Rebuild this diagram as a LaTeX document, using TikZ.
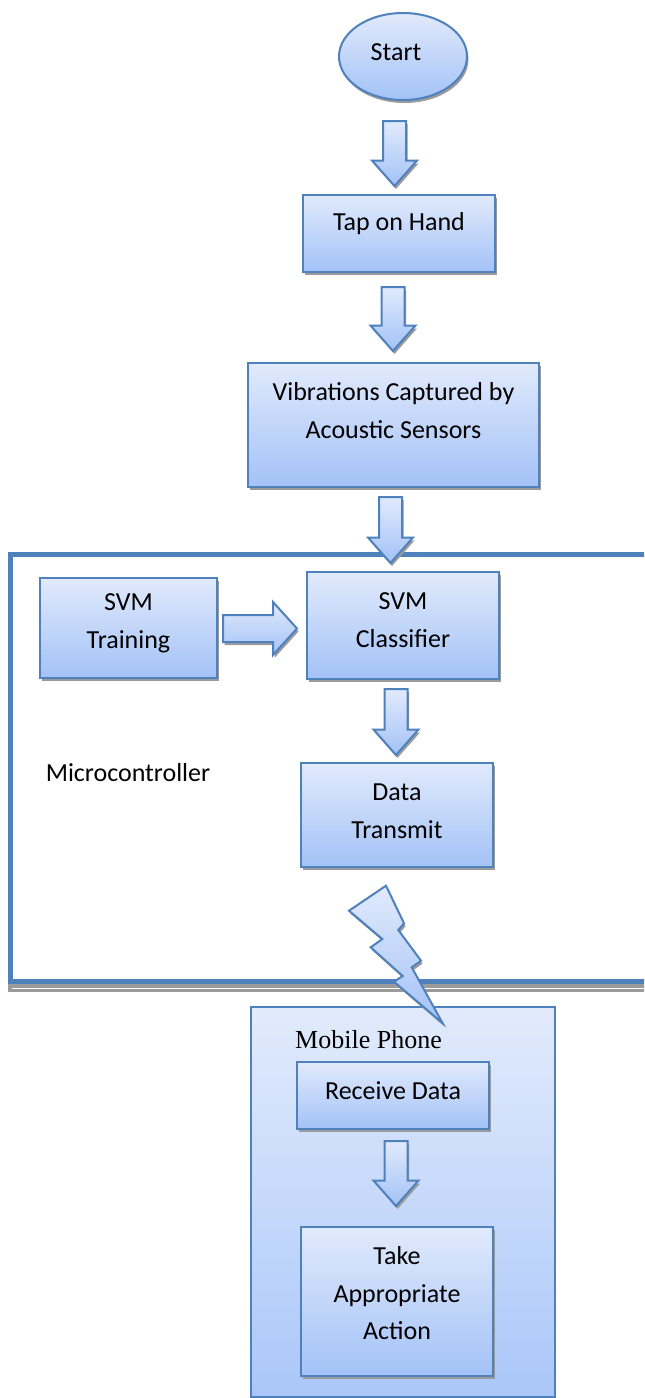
\documentclass[tikz,border=0pt]{standalone}
\usepackage{fontspec}
\setmainfont{Carlito}
\newfontfamily\phonefont{Liberation Serif}
\usetikzlibrary{shapes.geometric,shadows,calc}
\definecolor{bdr}{RGB}{79,129,189}
\definecolor{ctop}{RGB}{225,234,252}
\definecolor{cbot}{RGB}{163,194,247}
\definecolor{mtop}{RGB}{226,235,252}
\definecolor{mbot}{RGB}{170,199,249}
\definecolor{shadowc}{RGB}{155,155,155}
\tikzset{
  shadowed/.style={drop shadow={shadow xshift=0.75pt, shadow yshift=-1.5pt, fill=shadowc, opacity=1}},
  box/.style={draw=bdr, line width=1pt, top color=ctop, bottom color=cbot, shadowed, inner sep=0pt},
  blk/.style={draw=bdr, line width=1pt, top color=ctop, bottom color=cbot, shadowed, line join=miter},
  txt/.style={font=\fontsize{13}{18.75}\selectfont, align=center, inner sep=0pt, text=black},
  frame/.style={draw=bdr, line width=2.5pt},
}
\newcommand\blkdown[2]{\path[blk] let \p1=(#1), \p2=(#2) in
  (\x2-5.75pt,\y1) -- (\x2+5.75pt,\y1) -- (\x2+5.75pt,\y2+12.75pt) -- (\x2+11.25pt,\y2+12.75pt)
  -- (\x2,\y2) -- (\x2-11.25pt,\y2+12.75pt) -- (\x2-5.75pt,\y2+12.75pt) -- cycle;}
\begin{document}
\begin{tikzpicture}[x=0.5pt,y=-0.5pt]
\useasboundingbox (0,0) rectangle (644,1398);
\clip (0,0) rectangle (644,1398);
\fill[white] (0,0) rectangle (644,1398);
% microcontroller frame
\fill[shadowc] (8,984) rectangle (660,992);
\draw[white, line width=0.5pt] (12,988.5) -- (660,988.5);
\draw[frame] (660,554.5) -- (10.5,554.5) -- (10.5,981.5) -- (660,981.5);
\node[txt] (mcu) at (128,773) {Microcontroller};
% nodes
\node[box, ellipse, minimum width=64pt, minimum height=43.5pt] (start) at (403,56.5) {};
\node[txt] (startT) at (396,52) {Start};
\node[box, minimum width=96pt, minimum height=38.5pt] (tap) at (399,233.5) {};
\node[txt] (tapT) at (399,224) {Tap on Hand};
\node[box, minimum width=145.5pt, minimum height=62pt] (vib) at (393.5,425) {};
\node[txt] (vibT) at (393.5,410.5) {Vibrations Captured by\\Acoustic Sensors};
\node[box, minimum width=88.5pt, minimum height=50pt] (train) at (128.5,628) {};
\node[txt] (trainT) at (128.5,623.5) {SVM\\Training};
\node[box, minimum width=96pt, minimum height=53.5pt] (clf) at (403,625.5) {};
\node[txt] (clfT) at (403,620) {SVM\\Classifier};
\node[box, minimum width=96pt, minimum height=52pt] (tx) at (397,815) {};
\node[txt] (txT) at (397,811) {Data\\Transmit};
% mobile phone
\node[draw=bdr, line width=1pt, top color=mtop, bottom color=mbot, inner sep=0pt,
      minimum width=152pt, minimum height=195pt] (mob) at (403,1202) {};
\node[txt, font=\phonefont\fontsize{13}{16}\selectfont] (mobT) at (368.5,1040) {Mobile Phone};
\node[box, minimum width=96pt, minimum height=33.5pt] (rcv) at (393,1095.5) {};
\node[txt] (rcvT) at (393,1091) {Receive Data};
\node[box, minimum width=96pt, minimum height=74.5pt] (act) at (397,1301.5) {};
\node[txt] (actT) at (397,1293.5) {Take\\Appropriate\\Action};
% block arrows
\coordinate (a1s) at (394.5,121); \coordinate (a1e) at (394.5,186);
\coordinate (a2s) at (393,287);   \coordinate (a2e) at (393,351);
\coordinate (a3s) at (390.5,497); \coordinate (a3e) at (390.5,563);
\coordinate (a4s) at (396,689);   \coordinate (a4e) at (396,755);
\coordinate (a5s) at (396,1141);  \coordinate (a5e) at (396,1206);
\blkdown{a1s}{a1e}
\blkdown{a2s}{a2e}
\blkdown{a3s}{a3e}
\blkdown{a4s}{a4e}
\blkdown{a5s}{a5e}
\coordinate (r1s) at (223,628.5); \coordinate (r1e) at (297,628.5);
\path[blk] let \p1=(r1s), \p2=(r1e) in
  (\x1,\y2+6.75pt) -- (\x2-12pt,\y2+6.75pt) -- (\x2-12pt,\y2+13.25pt) -- (\x2,\y2)
  -- (\x2-12pt,\y2-13.25pt) -- (\x2-12pt,\y2-6.75pt) -- (\x1,\y2-6.75pt) -- cycle;
% lightning bolt
\path[blk] (386,885.7) -- (404,923.3) -- (398.3,930) -- (421,960.7) -- (411.7,967.3)
  -- (442.7,1023.3) -- (394,981.7) -- (402.7,976) -- (370.7,947.3) -- (382.3,939)
  -- (349,910.7) -- cycle;
\end{tikzpicture}
\end{document}
